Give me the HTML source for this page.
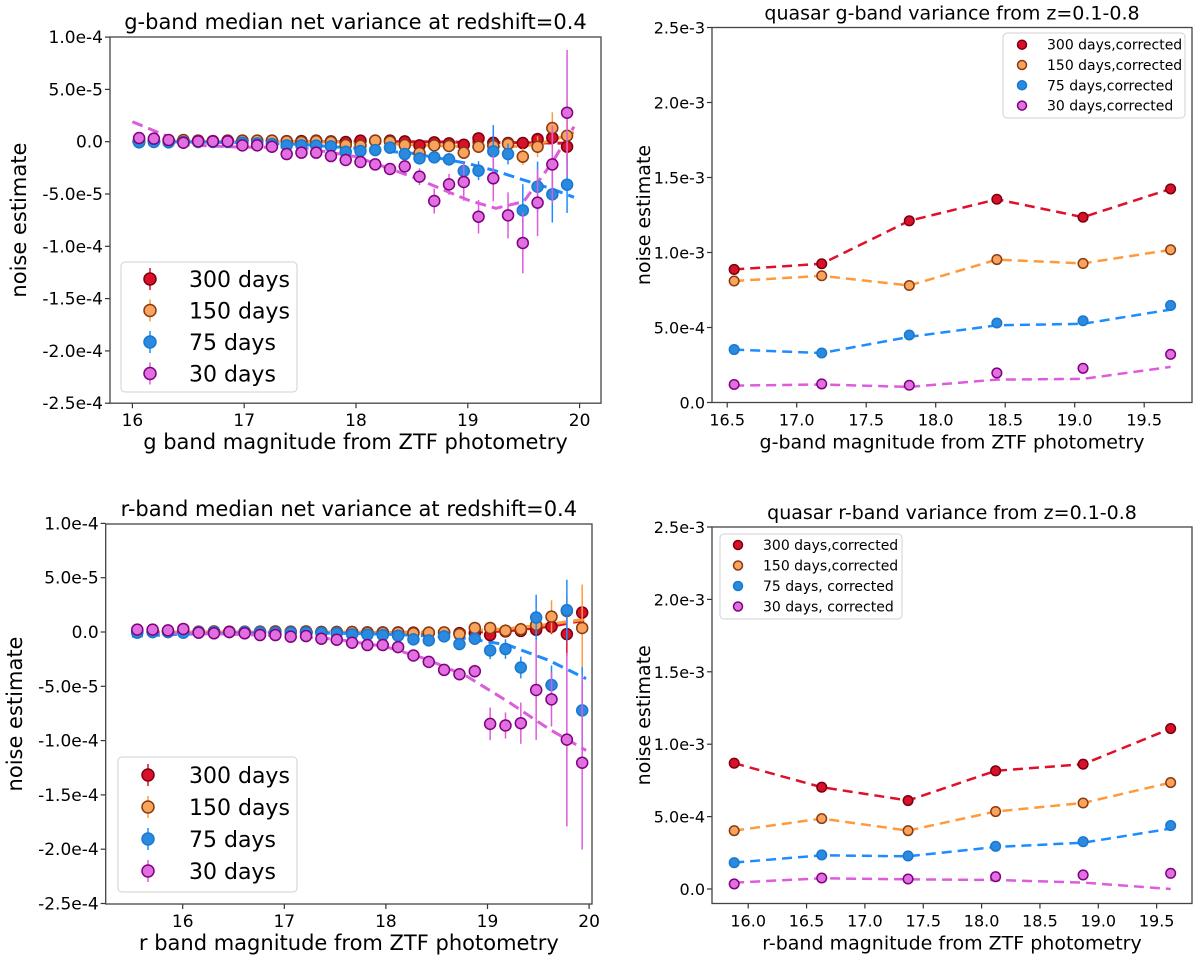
<!DOCTYPE html>
<html><head><meta charset="utf-8"><style>
html,body{margin:0;padding:0;background:#fff;}
svg{display:block;font-family:"DejaVu Sans","Liberation Sans",sans-serif;}
</style></head><body>
<svg id="fig" width="1200" height="966" viewBox="0 0 1200 966" xmlns="http://www.w3.org/2000/svg"></svg>
<script>
// ---------- data: top-left (g band), values in units of 1e-5 ----------
const tlMag0 = 16.06, tlStep = 0.132;
const tl300 = [-0.03,0.03,0.1,0.1,0.1,0.06,0.1,0.1,0.1,0.1,0.06,0.06,0.1,0.03,-0.03,0.1,0.1,0.1,0.03,-0.35,-0.06,-0.16,-0.29,0.32,-0.1,-0.13,-0.13,0.25,0.38,-0.48];
const tl300e = [0.2,0.2,0.2,0.2,0.2,0.2,0.2,0.2,0.2,0.2,0.2,0.2,0.2,0.2,0.2,0.2,0.2,0.3,0.3,0.4,0.4,0.4,0.4,0.5,0.5,0.5,0.5,0.6,0.8,0.9];
const tl150 = [0.16,0.1,0.06,0.16,0.1,0.06,0.1,0.1,0.1,0.1,0.03,-0.03,0.06,-0.03,-0.32,-0.38,0.1,0,-0.32,-1.08,-0.35,-0.41,-1.05,-0.48,-0.41,-0.22,-1.43,-0.48,1.31,0.57];
const tl150e = [0.2,0.2,0.2,0.2,0.2,0.2,0.2,0.2,0.2,0.2,0.2,0.2,0.2,0.2,0.3,0.3,0.3,0.3,0.3,0.4,0.4,0.4,0.5,0.5,0.5,0.6,0.8,1.0,1.5,2.5];
const tl75 = [-0.06,-0.03,-0.06,-0.03,-0.03,-0.03,-0.03,-0.1,-0.16,-0.22,-0.35,-0.35,-0.38,-0.45,-0.96,-0.89,-0.8,-0.57,-1.18,-1.59,-1.5,-1.69,-2.8,-2.77,-0.92,-1.18,-6.56,-4.3,-5.03,-4.11];
const tl75e = [0.2,0.2,0.2,0.2,0.2,0.2,0.2,0.2,0.2,0.2,0.2,0.2,0.2,0.2,0.3,0.3,0.3,0.3,0.4,0.5,0.5,0.6,0.8,0.9,2.5,1.0,2.5,2.4,2.7,2.7];
const tl30 = [0.35,0.29,0.16,-0.1,0.03,0.03,0.03,-0.35,-0.35,-0.48,-1.18,-1.05,-1.05,-1.37,-1.75,-1.94,-2.17,-2.61,-2.36,-3.34,-5.67,-4.08,-3.85,-7.17,-3.5,-7.04,-9.68,-5.83,-2.17,2.77];
const tl30e = [0.2,0.2,0.2,0.2,0.2,0.2,0.2,0.3,0.3,0.3,0.3,0.3,0.3,0.4,0.4,0.4,0.4,0.5,0.5,0.8,1.2,1.0,1.8,1.6,2.2,2.2,2.9,3.2,3.7,6.0];
const tlFitX = [16,16.5,17,17.5,18,18.5,19,19.25,19.5,19.75,19.95];
const tlFit300 = [0,0,0,0,0,0,-0.05,-0.08,-0.1,-0.12,-0.15];
const tlFit150 = [0.1,0.05,0,0,-0.05,-0.3,-0.5,-0.5,-0.45,0.1,0.9];
const tlFit75 = [0.06,-0.03,-0.1,-0.25,-0.64,-1.11,-2.07,-2.8,-3.66,-4.5,-5.32];
const tlFit30 = [1.91,-0.32,-0.54,-0.54,-1.43,-3.34,-5.57,-6.37,-5.73,-2.07,1.43];

// ---------- data: bottom-left (r band), units of 1e-5 ----------
const blMag0 = 15.553, blStep = 0.151;
const bl300 = [0,0,0,0,0,0,0,0,0,0,0,0,0,0,0,-0.03,-0.03,-0.03,-0.06,-0.06,-0.06,-0.1,-0.1,-0.28,0.05,0.1,0.2,0.49,-0.19,1.79];
const bl300e = [0.2,0.2,0.2,0.2,0.2,0.2,0.2,0.2,0.2,0.2,0.2,0.2,0.2,0.2,0.2,0.2,0.2,0.2,0.3,0.3,0.3,0.3,0.3,0.4,0.5,0.5,0.6,0.7,2.0,0.5];
const bl150 = [0,0.06,0.06,0.12,0.03,0.06,0.03,0.03,0.03,0.06,0.03,0.06,0,0,0,-0.06,-0.06,-0.06,-0.12,-0.06,-0.03,-0.19,0.37,0.37,0.12,0.25,0.65,1.42,1.94,0.37];
const bl150e = [0.2,0.2,0.2,0.2,0.2,0.2,0.2,0.2,0.2,0.2,0.2,0.2,0.2,0.2,0.2,0.2,0.2,0.3,0.3,0.3,0.3,0.4,0.4,0.5,0.6,0.6,0.9,1.5,1.5,4.0];
const bl75 = [-0.06,0,0,-0.06,0,0,0,0,-0.03,-0.06,-0.06,-0.06,-0.09,-0.12,-0.22,-0.25,-0.28,-0.34,-0.68,-0.77,-0.4,-1.11,-0.62,-1.7,-1.57,-3.27,1.33,-4.88,2.01,-7.22];
const bl75e = [0.2,0.2,0.2,0.2,0.2,0.2,0.2,0.2,0.2,0.2,0.2,0.2,0.2,0.2,0.2,0.2,0.3,0.3,0.3,0.3,0.4,0.4,0.5,0.8,0.9,1.0,2.1,1.8,2.8,4.0];
const bl30 = [0.22,0.22,0.15,0.28,-0.06,-0.12,0,-0.12,-0.28,-0.28,-0.43,-0.37,-0.62,-0.71,-0.99,-1.2,-1.2,-1.39,-2.16,-2.75,-3.49,-3.89,-3.61,-8.46,-8.61,-8.4,-5.34,-6.2,-9.91,-12.04];
const bl30e = [0.2,0.2,0.2,0.2,0.2,0.2,0.2,0.2,0.2,0.2,0.2,0.2,0.2,0.3,0.3,0.3,0.3,0.3,0.4,0.4,0.5,0.5,0.6,1.5,1.2,1.9,4.6,2.5,8.0,8.0];
const blFitX = [15.5,16,16.5,17,17.5,18,18.4,18.8,19.2,19.6,19.97];
const blFit300 = [0,0,0,0,-0.05,-0.1,-0.1,-0.05,0.1,0.5,1.1];
const blFit150 = [0,0,0,0,0,-0.05,0,0.1,0.3,0.7,1.2];
const blFit75 = [-0.4,-0.2,-0.1,-0.1,-0.1,-0.2,-0.35,-0.6,-1.2,-2.6,-4.3];
const blFit30 = [-0.1,-0.1,-0.2,-0.35,-0.65,-1.35,-2.5,-4.1,-6.4,-8.9,-10.9];

// ---------- data: top-right (g band, corrected), units of 1e-3 ----------
const trMag = [16.55,17.18,17.81,18.44,19.06,19.69];
const tr300 = [0.887,0.925,1.211,1.355,1.235,1.424];
const tr150 = [0.81,0.845,0.78,0.953,0.927,1.018];
const tr75 = [0.353,0.33,0.45,0.53,0.545,0.647];
const tr30 = [0.12,0.124,0.115,0.197,0.228,0.321];
const trFit75 = [0.353,0.33,0.437,0.515,0.525,0.619];
const trFit30 = [0.113,0.12,0.104,0.153,0.157,0.237];

// ---------- data: bottom-right (r band, corrected), units of 1e-3 ----------
const brMag = [15.88,16.63,17.37,18.12,18.87,19.62];
const br300 = [0.869,0.703,0.611,0.816,0.862,1.108];
const br150 = [0.403,0.486,0.403,0.535,0.594,0.735];
const br75 = [0.182,0.235,0.228,0.295,0.327,0.438];
const br30 = [0.035,0.076,0.069,0.085,0.097,0.108];
const brFit75 = [0.182,0.233,0.226,0.29,0.32,0.417];
const brFit30 = [0.044,0.074,0.067,0.062,0.044,0.0];

// ---------- ticks ----------
const leftYTicks = [10,5,0,-5,-10,-15,-20,-25];
const leftYLabels = ["1.0e-4","5.0e-5","0.0","-5.0e-5","-1.0e-4","-1.5e-4","-2.0e-4","-2.5e-4"];
const leftXTicks = [16,17,18,19,20];
const rightYTicks = [0,0.5,1.0,1.5,2.0,2.5];
const rightYLabels = ["0.0","5.0e-4","1.0e-3","1.5e-3","2.0e-3","2.5e-3"];
const trXTicks = [16.5,17.0,17.5,18.0,18.5,19.0,19.5];
const brXTicks = [16.0,16.5,17.0,17.5,18.0,18.5,19.0,19.5];

const NS = "http://www.w3.org/2000/svg";
const svg = document.getElementById('fig');
function mk(tag, attrs, parent){ const e=document.createElementNS(NS,tag); for(const k in attrs) e.setAttribute(k,attrs[k]); (parent||svg).appendChild(e); return e; }
function txt(s, attrs, parent){ const e=mk('text',attrs,parent); e.textContent=s; return e; }

const C = {
  r:{fill:'#d8102a',edge:'#7a0010',line:'#e0102a'},
  o:{fill:'#f8a45c',edge:'#8a3a10',line:'#ff9a3c'},
  b:{fill:'#2a8ae0',edge:'#1a78d0',line:'#1e8cff'},
  p:{fill:'#e070e0',edge:'#800080',line:'#dc5cdc'}
};

function panel(cfg){
  const g = mk('g',{});
  
  
  const X = m => cfg.x0px + (m - cfg.xref)*cfg.xs;
  const Y = v => cfg.y0px - v*cfg.ys;
  const clip = 'clip-'+cfg.name;
  const cp = mk('clipPath',{id:clip},g);
  mk('rect',{x:cfg.L,y:cfg.T,width:cfg.R-cfg.L,height:cfg.B-cfg.T},cp);
  cfg.yticks.forEach((v,i)=>{
    const y=Y(v);
    mk('line',{x1:cfg.L-5,x2:cfg.L,y1:y,y2:y,stroke:'#333','stroke-width':1.2},g);
    const t=txt(cfg.ylabels[i],{x:cfg.L-7,y:y+6,'text-anchor':'end','font-size':cfg.tfs,fill:'#000'},g);
    
    
  });
  cfg.xticks.forEach(m=>{
    const x=X(m);
    mk('line',{x1:x,x2:x,y1:cfg.B,y2:cfg.B+5,stroke:'#333','stroke-width':1.2},g);
    const t=txt(cfg.xfmt(m),{x:x,y:cfg.B+23,'text-anchor':'middle','font-size':cfg.tfs,fill:'#000'},g);
    
    
  });
  const title=txt(cfg.title,{x:(cfg.L+cfg.R)/2,y:cfg.T-8,'text-anchor':'middle','font-size':cfg.titfs,fill:'#000'},g);
  
  
  const xl=txt(cfg.xlabel,{x:(cfg.L+cfg.R)/2,y:cfg.B+46,'text-anchor':'middle','font-size':cfg.labfs,fill:'#000'},g);
  
  
  const yc=(cfg.T+cfg.B)/2;
  const yl=txt('noise estimate',{x:cfg.ylx,y:yc,'text-anchor':'middle','font-size':cfg.ylabfs,fill:'#000',transform:`rotate(-90 ${cfg.ylx} ${yc})`},g);
  
  
  const plot = mk('g',{'clip-path':`url(#${clip})`},g);
  cfg.fits.forEach(f=>{
    const d=f.xs.map((m,i)=>(i?'L':'M')+X(m).toFixed(1)+' '+Y(f.vs[i]).toFixed(1)).join(' ');
    const p=mk('path',{d:d,fill:'none',stroke:C[f.c].line,'stroke-width':cfg.lw,'stroke-dasharray':cfg.dash},plot);
    
    
  });
  cfg.series.forEach(s=>{
    const sg=mk('g',{},plot);
    
    
    s.vs.forEach((v,i)=>{
      const m = s.xs ? s.xs[i] : s.x0 + i*s.step;
      const x=X(m), y=Y(v);
      if(s.es){ const e=s.es[i];
        mk('line',{x1:x,x2:x,y1:Y(v+e),y2:Y(v-e),stroke:C[s.c].line,'stroke-width':1.5},sg); }
      const c=mk('circle',{cx:x,cy:y,r:cfg.r,fill:C[s.c].fill,stroke:C[s.c].edge,'stroke-width':1.5},sg);
      
      
    });
  });
  mk('rect',{x:cfg.L,y:cfg.T,width:cfg.R-cfg.L,height:cfg.B-cfg.T,fill:'none',stroke:'#444','stroke-width':1.3},g);
  const lg=cfg.legend;
  const lgg=mk('g',{},g);
  
  
  mk('rect',{x:lg.x,y:lg.y,width:lg.w,height:lg.h,rx:4,fill:'#fff','fill-opacity':0.85,stroke:'#d0d0d0','stroke-width':1},lgg);
  lg.items.forEach((it,i)=>{
    const yy=lg.y0+i*lg.dy;
    const eg=mk('g',{},lgg);
    
    
    if(lg.bars) mk('line',{x1:lg.mx,x2:lg.mx,y1:yy-11,y2:yy+11,stroke:C[it.c].line,'stroke-width':1.5},eg);
    mk('circle',{cx:lg.mx,cy:yy,r:lg.r,fill:C[it.c].fill,stroke:C[it.c].edge,'stroke-width':1.5},eg);
    txt(it.t,{x:lg.tx,y:yy+lg.fs*0.36,'font-size':lg.fs,fill:'#000'},eg);
  });
}

const f1 = m => String(m);
const f2 = m => m.toFixed(1);

panel({name:'g-band-median-panel',L:110,R:601,T:37,B:403.2,x0px:132.4,xref:16,xs:111.8,y0px:141.7,ys:10.46,
  yticks:leftYTicks,ylabels:leftYLabels,xticks:leftXTicks,xfmt:f1,ylx:26,r:5.5,lw:3,dash:'11 6',
  tfs:17,titfs:21,labfs:21,ylabfs:21,
  title:'g-band median net variance at redshift=0.4',xlabel:'g band magnitude from ZTF photometry',
  fits:[{xs:tlFitX,vs:tlFit300,c:'r',label:'300'},{xs:tlFitX,vs:tlFit150,c:'o',label:'150'},{xs:tlFitX,vs:tlFit75,c:'b',label:'75'},{xs:tlFitX,vs:tlFit30,c:'p',label:'30'}],
  series:[{vs:tl300,es:tl300e,x0:tlMag0,step:tlStep,c:'r',label:'300'},{vs:tl150,es:tl150e,x0:tlMag0,step:tlStep,c:'o',label:'150'},{vs:tl75,es:tl75e,x0:tlMag0,step:tlStep,c:'b',label:'75'},{vs:tl30,es:tl30e,x0:tlMag0,step:tlStep,c:'p',label:'30'}],
  legend:{x:121,y:262,w:176,h:130,y0:279,dy:31.5,mx:150,tx:189,r:6,fs:22,bars:true,
    items:[{c:'r',t:'300 days'},{c:'o',t:'150 days'},{c:'b',t:'75 days'},{c:'p',t:'30 days'}]}
});

panel({name:'r-band-median-panel',L:105.7,R:592,T:524,B:904,x0px:182.7,xref:16,xs:101.6,y0px:632,ys:10.86,
  yticks:leftYTicks,ylabels:leftYLabels,xticks:leftXTicks,xfmt:f1,ylx:22,r:5.5,lw:3,dash:'11 6',
  tfs:17,titfs:21,labfs:21,ylabfs:21,
  title:'r-band median net variance at redshift=0.4',xlabel:'r band magnitude from ZTF photometry',
  fits:[{xs:blFitX,vs:blFit300,c:'r',label:'300'},{xs:blFitX,vs:blFit150,c:'o',label:'150'},{xs:blFitX,vs:blFit75,c:'b',label:'75'},{xs:blFitX,vs:blFit30,c:'p',label:'30'}],
  series:[{vs:bl300,es:bl300e,x0:blMag0,step:blStep,c:'r',label:'300'},{vs:bl150,es:bl150e,x0:blMag0,step:blStep,c:'o',label:'150'},{vs:bl75,es:bl75e,x0:blMag0,step:blStep,c:'b',label:'75'},{vs:bl30,es:bl30e,x0:blMag0,step:blStep,c:'p',label:'30'}],
  legend:{x:118,y:757,w:179,h:135,y0:775,dy:32,mx:148,tx:189,r:6,fs:22,bars:true,
    items:[{c:'r',t:'300 days'},{c:'o',t:'150 days'},{c:'b',t:'75 days'},{c:'p',t:'30 days'}]}
});

panel({name:'quasar-g-band-panel',L:712,R:1192,T:27.5,B:402.5,x0px:727.2,xref:16.5,xs:139,y0px:402.5,ys:150,
  yticks:rightYTicks,ylabels:rightYLabels,xticks:trXTicks,xfmt:f2,ylx:650,r:4.8,lw:2.5,dash:'10 6',
  tfs:16,titfs:19,labfs:19,ylabfs:19,
  title:'quasar g-band variance from z=0.1-0.8',xlabel:'g-band magnitude from ZTF photometry',
  fits:[{xs:trMag,vs:tr300,c:'r',label:'300'},{xs:trMag,vs:tr150,c:'o',label:'150'},{xs:trMag,vs:trFit75,c:'b',label:'75'},{xs:trMag,vs:trFit30,c:'p',label:'30'}],
  series:[{vs:tr300,xs:trMag,c:'r',label:'300'},{vs:tr150,xs:trMag,c:'o',label:'150'},{vs:tr75,xs:trMag,c:'b',label:'75'},{vs:tr30,xs:trMag,c:'p',label:'30'}],
  legend:{x:1003,y:33,w:182,h:85,y0:44.7,dy:20.3,mx:1022,tx:1047,r:4.5,fs:14,bars:false,
    items:[{c:'r',t:'300 days,corrected'},{c:'o',t:'150 days,corrected'},{c:'b',t:'75 days,corrected'},{c:'p',t:'30 days,corrected'}]}
});

panel({name:'quasar-r-band-panel',L:712,R:1192,T:527,B:903.5,x0px:748.2,xref:16,xs:116.7,y0px:889,ys:144.8,
  yticks:rightYTicks,ylabels:rightYLabels,xticks:brXTicks,xfmt:f2,ylx:650,r:4.8,lw:2.5,dash:'10 6',
  tfs:16,titfs:19,labfs:19,ylabfs:19,
  title:'quasar r-band variance from z=0.1-0.8',xlabel:'r-band magnitude from ZTF photometry',
  fits:[{xs:brMag,vs:br300,c:'r',label:'300'},{xs:brMag,vs:br150,c:'o',label:'150'},{xs:brMag,vs:brFit75,c:'b',label:'75'},{xs:brMag,vs:brFit30,c:'p',label:'30'}],
  series:[{vs:br300,xs:brMag,c:'r',label:'300'},{vs:br150,xs:brMag,c:'o',label:'150'},{vs:br75,xs:brMag,c:'b',label:'75'},{vs:br30,xs:brMag,c:'p',label:'30'}],
  legend:{x:720,y:534,w:182,h:85,y0:545,dy:20.5,mx:738,tx:763,r:4.5,fs:14,bars:false,
    items:[{c:'r',t:'300 days,corrected'},{c:'o',t:'150 days,corrected'},{c:'b',t:'75 days, corrected'},{c:'p',t:'30 days, corrected'}]}
});
</script>
</body></html>
